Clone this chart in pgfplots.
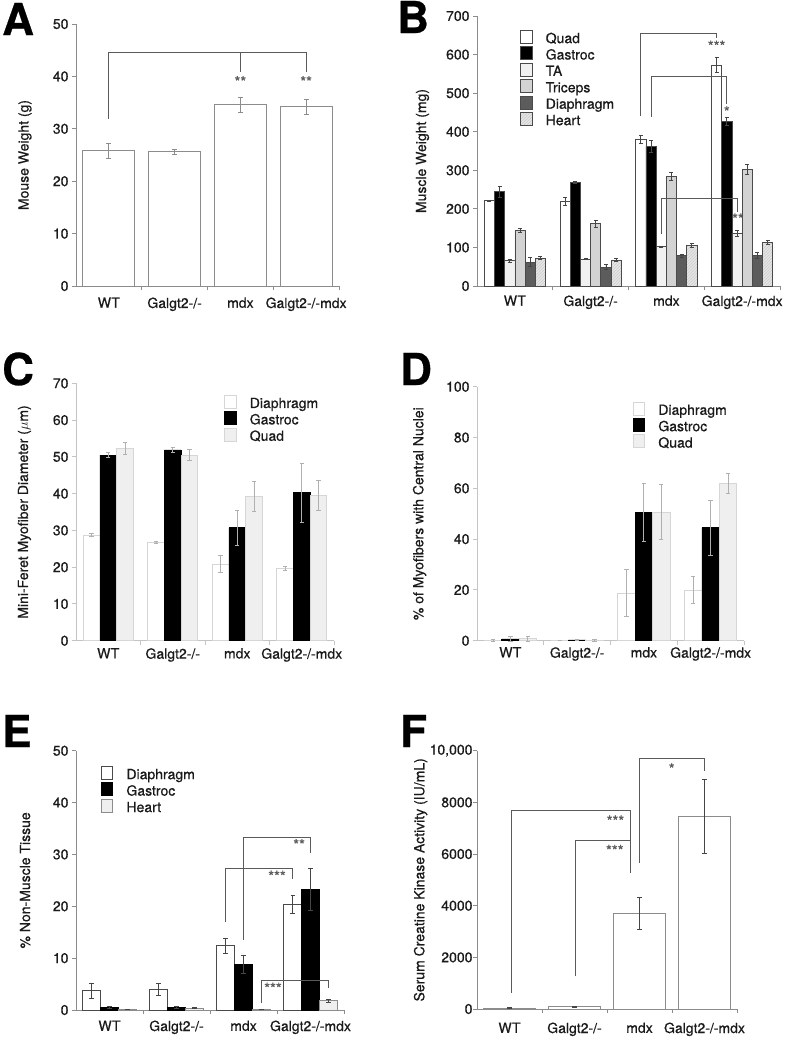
\documentclass[border=0pt]{standalone}
\usepackage{fontspec}
\setmainfont{TeX Gyre Heros}[FakeBold=0.6]
\usepackage{pgfplots}
\usepackage{pgfplotstable}
\pgfplotsset{compat=1.18}
\usetikzlibrary{patterns}

\definecolor{txt}{HTML}{1A1A1A}
\definecolor{axd}{HTML}{8C8C8C}
\definecolor{axl}{HTML}{C4C4C4}
\definecolor{brc}{HTML}{5A5A5A}
\definecolor{ebd}{HTML}{454545}
\definecolor{ebl}{HTML}{B0B0B0}
\definecolor{bol}{HTML}{4A4A4A}
\definecolor{bTA}{HTML}{F1F1F1}
\definecolor{bTri}{HTML}{D3D3D3}
\definecolor{bDia}{HTML}{5C5C5C}
\definecolor{bHrt}{HTML}{E6E6E6}
\definecolor{lq}{HTML}{EFEFEF}
\definecolor{lqo}{HTML}{D6D6D6}

\tikzset{sig/.style={font=\fontsize{15}{15}\selectfont, text=brc, inner sep=0pt}}

\pgfplotsset{
 panel/.style={
  scale only axis, axis lines*=left, enlargelimits=false, clip=false,
  xmin=-0.5, xmax=3.5,
  xtick={0.5,1.5,2.5,3.5}, xticklabels={},
  extra x ticks={0,1,2,3},
  extra x tick labels={WT,Galgt2-/-,mdx,Galgt2-/-mdx},
  extra x tick style={major tick length=0pt},
  tick align=outside, major tick length=4pt,
  axis line style={draw=axd, line width=0.9pt},
  tick style={draw=axd, line width=0.9pt},
  tick label style={font=\fontsize{14}{16}\selectfont, text=txt},
  label style={font=\fontsize{14}{16}\selectfont, text=txt},
  /pgf/number format/assume math mode=true,
  /pgf/number format/1000 sep={},
  legend cell align=left,
 },
 leg/.style={legend image code/.code={\draw[##1] (0pt,-3.3pt) rectangle (11.5pt,9.6pt); \path (25pt,0pt);}},
 legstyle/.style={legend style={at={(axis description cs:#1)}, anchor=north west, draw=none, fill=none, inner sep=0pt, outer sep=0pt, row sep=0pt,
   nodes={inner sep=0pt, text height=9.6pt, text depth=3.3pt, font=\fontsize{14}{16}\selectfont, text=txt}}},
 eb/.style 2 args={error bars/.cd, y dir=both, y explicit,
   error bar style={draw=#1, line width=0.8pt},
   error mark options={rotate=90, mark size=#2, draw=#1, line width=0.8pt}},
 brk/.style={sharp plot, no marks, draw=brc, line width=0.8pt, forget plot},
}

\pgfplotstableread{
cat y e
0 25.8 1.5
1 25.6 0.55
2 34.6 1.45
3 34.2 1.4
}\dataA

\pgfplotstableread{
cat quad quade gas gase ta tae tri trie dia diae hrt hrte
0 221 2 245 14 66 4 144 5 62 12 72 4
1 219 10 269 3 70 1.5 162 9 49 6 67 4
2 380 11 362 16 102 1.5 285 10 79 4 105 5
3 573 19 426 10 137 8 303 13 79 8 113 5
}\dataB

\pgfplotstableread{
cat dia diae gas gase quad quade
0 28.7 0.4 50.5 0.6 52.3 1.6
1 26.8 0.3 51.9 0.6 50.5 1.4
2 20.8 2.3 30.7 4.8 39.3 4.0
3 19.6 0.5 40.3 8.0 39.5 4.0
}\dataC

\pgfplotstableread{
cat dia diae gas gase quad quade
0 0.2 0.3 0.7 0.8 0.8 1.0
1 0.05 0.0 0.3 0.3 0.2 0.3
2 18.8 9.2 50.5 11.5 50.7 11.0
3 20.0 5.2 44.5 10.8 61.9 4.0
}\dataD

\pgfplotstableread{
cat dia diae gas gase hrt hrte
0 3.7 1.5 0.5 0.15 0.1 0.0
1 4.0 1.1 0.5 0.2 0.4 0.1
2 12.4 1.5 8.8 1.8 0.1 0.0
3 20.4 1.7 23.3 4.1 1.8 0.3
}\dataE

\pgfplotstableread{
cat y e
0 40 10
1 80 30
2 3700 630
3 7460 1420
}\dataF

\begin{document}
\begin{tikzpicture}
\useasboundingbox (0pt,0pt) rectangle (788pt,-1039pt);

% ---------------- A
\begin{axis}[panel, at={(76pt,-286pt)}, anchor=south west, width=263pt, height=262pt,
  ymin=0, ymax=50, ytick={0,10,...,50},
  ylabel={Mouse Weight (g)},
  ylabel style={at={(axis description cs:-0.194,0.5)}, anchor=center},
  xticklabel style={yshift=-8pt}]
\addplot[ybar, bar width=52pt, bar shift=0pt, fill=white, draw=axd, line width=0.9pt, eb={axd}{2.6pt}]
  table[x=cat, y=y, y error=e]{\dataA};
\addplot[brk] coordinates {(0,31.9) (0,44.5) (3,44.5) (3,40.9)};
\addplot[brk] coordinates {(2,44.5) (2,40.9)};
\node[sig] at (axis cs:2,39.0) {**};
\node[sig] at (axis cs:3,39.0) {**};
\end{axis}

% ---------------- B
\begin{axis}[panel, at={(477pt,-286pt)}, anchor=south west, width=303pt, height=270pt,
  ymin=0, ymax=700, ytick={0,100,...,700},
  ylabel={Muscle Weight (mg)},
  ylabel style={at={(axis description cs:-0.18,0.5)}, anchor=center},
  xticklabel style={yshift=-6pt},
  legstyle={0.142,0.948}]
\addplot[ybar, bar width=10.2pt, bar shift=0pt, fill=white, draw=bol, line width=0.7pt, leg, eb={ebd}{2pt}]
  table[x expr=\thisrow{cat}-0.3366, y=quad, y error=quade]{\dataB};
\addlegendentry{Quad}
\addplot[ybar, bar width=10.2pt, bar shift=0pt, fill=black, draw=bol, line width=0.7pt, leg, eb={ebd}{2pt}]
  table[x expr=\thisrow{cat}-0.2020, y=gas, y error=gase]{\dataB};
\addlegendentry{Gastroc}
\addplot[ybar, bar width=10.2pt, bar shift=0pt, fill=bTA, draw=bol, line width=0.7pt, leg, eb={ebd}{2pt}]
  table[x expr=\thisrow{cat}-0.0673, y=ta, y error=tae]{\dataB};
\addlegendentry{TA}
\addplot[ybar, bar width=10.2pt, bar shift=0pt, fill=bTri, draw=bol, line width=0.7pt, leg, eb={ebd}{2pt}]
  table[x expr=\thisrow{cat}+0.0673, y=tri, y error=trie]{\dataB};
\addlegendentry{Triceps}
\addplot[ybar, bar width=10.2pt, bar shift=0pt, fill=bDia, draw=bol, line width=0.7pt, leg, eb={ebd}{2pt}]
  table[x expr=\thisrow{cat}+0.2020, y=dia, y error=diae]{\dataB};
\addlegendentry{Diaphragm}
\addplot[ybar, bar width=10.2pt, bar shift=0pt, fill=bHrt, draw=bol, line width=0.7pt,
  postaction={pattern=north east lines, pattern color=black!20}, leg, eb={ebd}{2pt}]
  table[x expr=\thisrow{cat}+0.3366, y=hrt, y error=hrte]{\dataB};
\addlegendentry{Heart}
\addplot[brk] coordinates {(1.663,441) (1.663,655) (2.663,655) (2.663,643)};
\addplot[brk] coordinates {(1.798,439) (1.798,543) (2.798,543) (2.798,472)};
\addplot[brk] coordinates {(1.933,135) (1.933,226) (2.933,226) (2.933,192)};
\node[sig] at (axis cs:2.663,622) {***};
\node[sig] at (axis cs:2.798,452) {*};
\node[sig] at (axis cs:2.945,174) {**};
\end{axis}

% ---------------- C
\begin{axis}[panel, at={(76pt,-640.7pt)}, anchor=south west, width=258pt, height=257.4pt,
  ymin=0, ymax=70, ytick={0,10,...,70},
  axis line style={draw=axl}, tick style={draw=axl},
  ylabel={Mini-Feret Myofiber Diameter ($\mu$m)},
  ylabel style={at={(axis description cs:-0.2,0.5)}, anchor=center},
  xticklabel style={yshift=-4pt},
  legstyle={0.574,0.955}]
\addplot[ybar, bar width=16.7pt, bar shift=0pt, fill=white, draw=lqo, line width=0.7pt, leg, eb={ebl}{2.2pt}]
  table[x expr=\thisrow{cat}-0.2589, y=dia, y error=diae]{\dataC};
\addlegendentry{Diaphragm}
\addplot[ybar, bar width=16.7pt, bar shift=0pt, fill=black, draw=black, line width=0.7pt, leg, eb={ebl}{2.2pt}]
  table[x=cat, y=gas, y error=gase]{\dataC};
\addlegendentry{Gastroc}
\addplot[ybar, bar width=16.7pt, bar shift=0pt, fill=lq, draw=lqo, line width=0.7pt, leg, eb={ebl}{2.2pt}]
  table[x expr=\thisrow{cat}+0.2589, y=quad, y error=quade]{\dataC};
\addlegendentry{Quad}
\end{axis}

% ---------------- D
\begin{axis}[panel, at={(477pt,-640.7pt)}, anchor=south west, width=267pt, height=254pt,
  ymin=0, ymax=100, ytick={0,20,...,100},
  axis line style={draw=axl}, tick style={draw=axl},
  ylabel={\% of Myofibers with Central Nuclei},
  ylabel style={at={(axis description cs:-0.215,0.5)}, anchor=center},
  xticklabel style={yshift=-3pt},
  legstyle={0.583,0.941}]
\addplot[ybar, bar width=17.4pt, bar shift=0pt, fill=white, draw=lqo, line width=0.7pt, leg, eb={ebl}{2.2pt}]
  table[x expr=\thisrow{cat}-0.2607, y=dia, y error=diae]{\dataD};
\addlegendentry{Diaphragm}
\addplot[ybar, bar width=17.4pt, bar shift=0pt, fill=black, draw=black, line width=0.7pt, leg, eb={ebl}{2.2pt}]
  table[x=cat, y=gas, y error=gase]{\dataD};
\addlegendentry{Gastroc}
\addplot[ybar, bar width=17.4pt, bar shift=0pt, fill=lq, draw=lqo, line width=0.7pt, leg, eb={ebl}{2.2pt}]
  table[x expr=\thisrow{cat}+0.2607, y=quad, y error=quade]{\dataD};
\addlegendentry{Quad}
\end{axis}

% ---------------- E
\begin{axis}[panel, at={(76pt,-1010pt)}, anchor=south west, width=268pt, height=259.3pt,
  ymin=0, ymax=50, ytick={0,10,...,50},
  ylabel={\% Non-Muscle Tissue},
  ylabel style={at={(axis description cs:-0.19,0.5)}, anchor=center},
  xticklabel style={yshift=-7pt},
  legstyle={0.092,0.941}]
\addplot[ybar, bar width=17.8pt, bar shift=0pt, fill=white, draw=bol, line width=0.8pt, leg, eb={ebd}{2.2pt}]
  table[x expr=\thisrow{cat}-0.2657, y=dia, y error=diae]{\dataE};
\addlegendentry{Diaphragm}
\addplot[ybar, bar width=17.8pt, bar shift=0pt, fill=black, draw=black, line width=0.8pt, leg, eb={ebd}{2.2pt}]
  table[x=cat, y=gas, y error=gase]{\dataE};
\addlegendentry{Gastroc}
\addplot[ybar, bar width=17.8pt, bar shift=0pt, fill=lq, draw=axd, line width=0.8pt, leg, eb={ebd}{2.2pt}]
  table[x expr=\thisrow{cat}+0.2657, y=hrt, y error=hrte]{\dataE};
\addlegendentry{Heart}
\addplot[brk] coordinates {(2,13.5) (2,33.2) (3,33.2) (3,30.3)};
\addplot[brk] coordinates {(1.734,17) (1.734,27.3) (2.734,27.3) (2.734,25.2)};
\addplot[brk] coordinates {(2.266,1.3) (2.266,5.8) (3.266,5.8) (3.266,4.2)};
\node[sig] at (axis cs:2.83,31.9) {**};
\node[sig] at (axis cs:2.5,25.8) {***};
\node[sig] at (axis cs:2.44,4.2) {***};
\end{axis}

% ---------------- F
\begin{axis}[panel, at={(477pt,-1009pt)}, anchor=south west, width=260pt, height=258.3pt,
  ymin=0, ymax=10000, ytick={0,2000,...,10000},
  yticklabels={0,2000,4000,6000,8000,{10,000}},
  scaled y ticks=false,
  yticklabel style={xshift=3pt},
  ylabel={Serum Creatine Kinase Activity (IU/mL)},
  ylabel style={at={(axis description cs:-0.217,0.5)}, anchor=center},
  xticklabel style={yshift=-10pt}]
\addplot[ybar, bar width=52pt, bar shift=0pt, fill=white, draw=axd, line width=0.9pt, eb={ebd}{2.4pt}]
  table[x=cat, y=y, y error=e]{\dataF};
\addplot[brk] coordinates {(2.0,5652) (2.0,9690) (3.0,9690) (3.0,9200)};
\addplot[brk] coordinates {(0.03,620) (0.03,7690) (1.86,7690) (1.86,5265)};
\addplot[brk] coordinates {(1.02,1265) (1.02,6530) (1.86,6530)};
\node[sig] at (axis cs:2.495,9300) {*};
\node[sig] at (axis cs:1.63,7280) {***};
\node[sig] at (axis cs:1.62,6140) {***};
\end{axis}

% panel letters
\node[anchor=base west, inner sep=0pt, font=\fontsize{44}{44}\selectfont\bfseries] at (2pt,-35pt) {A};
\node[anchor=base west, inner sep=0pt, font=\fontsize{44}{44}\selectfont\bfseries] at (397pt,-33pt) {B};
\node[anchor=base west, inner sep=0pt, font=\fontsize{44}{44}\selectfont\bfseries] at (2pt,-385pt) {C};
\node[anchor=base west, inner sep=0pt, font=\fontsize{44}{44}\selectfont\bfseries] at (400pt,-385pt) {D};
\node[anchor=base west, inner sep=0pt, font=\fontsize{44}{44}\selectfont\bfseries] at (2pt,-747pt) {E};
\node[anchor=base west, inner sep=0pt, font=\fontsize{44}{44}\selectfont\bfseries] at (400pt,-747pt) {F};
\end{tikzpicture}
\end{document}
